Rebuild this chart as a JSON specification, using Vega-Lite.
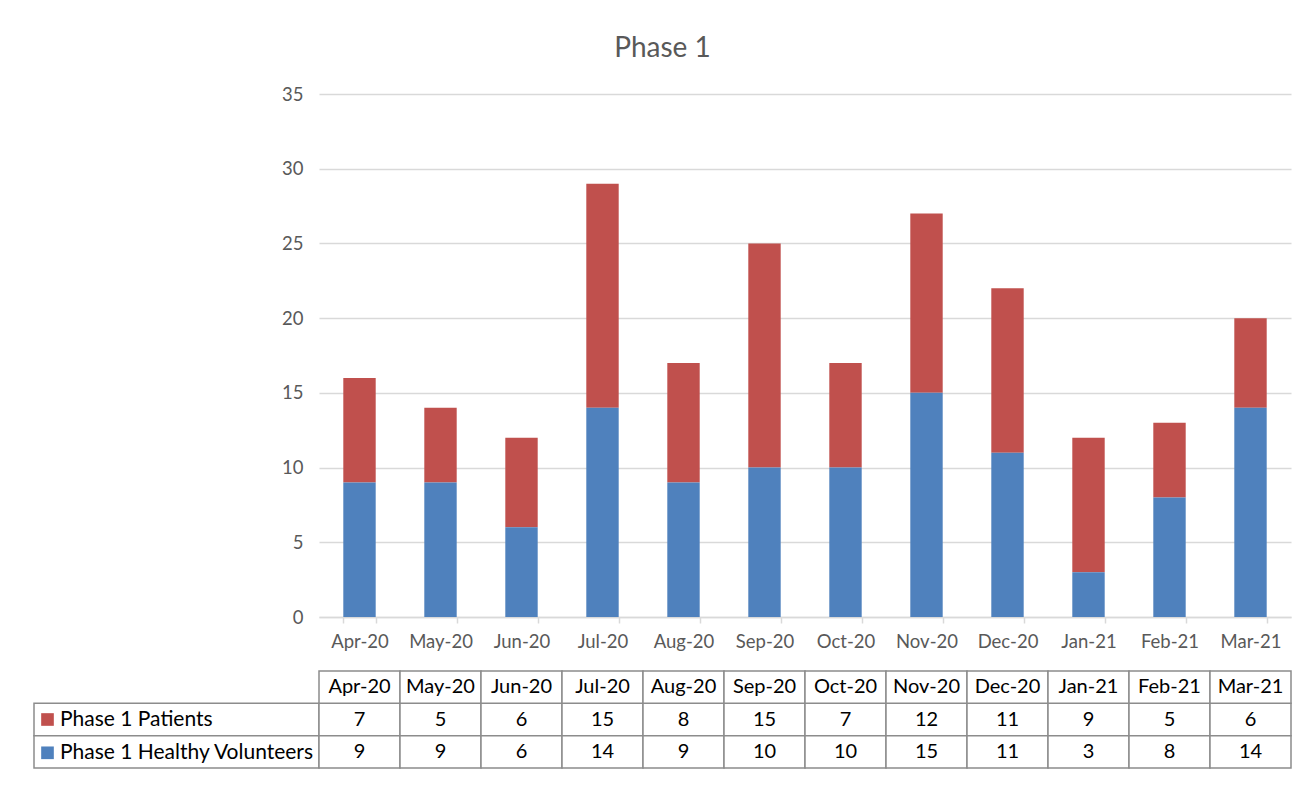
{
  "$schema": "https://vega.github.io/schema/vega-lite/v6.json",
  "background": "white",
  "padding": {"left": 33, "top": 35, "right": 12, "bottom": 10},
  "title": {"text": "Phase 1", "font": "Lato", "fontSize": 28, "fontWeight": "normal", "color": "#595959", "anchor": "middle", "offset": 22},
  "config": {"view": {"stroke": null}, "font": "Lato"},
  "datasets": {
    "phase1": [
      {"month": "Apr-20", "series": "Phase 1 Patients", "value": 7},
      {"month": "Apr-20", "series": "Phase 1 Healthy Volunteers", "value": 9},
      {"month": "May-20", "series": "Phase 1 Patients", "value": 5},
      {"month": "May-20", "series": "Phase 1 Healthy Volunteers", "value": 9},
      {"month": "Jun-20", "series": "Phase 1 Patients", "value": 6},
      {"month": "Jun-20", "series": "Phase 1 Healthy Volunteers", "value": 6},
      {"month": "Jul-20", "series": "Phase 1 Patients", "value": 15},
      {"month": "Jul-20", "series": "Phase 1 Healthy Volunteers", "value": 14},
      {"month": "Aug-20", "series": "Phase 1 Patients", "value": 8},
      {"month": "Aug-20", "series": "Phase 1 Healthy Volunteers", "value": 9},
      {"month": "Sep-20", "series": "Phase 1 Patients", "value": 15},
      {"month": "Sep-20", "series": "Phase 1 Healthy Volunteers", "value": 10},
      {"month": "Oct-20", "series": "Phase 1 Patients", "value": 7},
      {"month": "Oct-20", "series": "Phase 1 Healthy Volunteers", "value": 10},
      {"month": "Nov-20", "series": "Phase 1 Patients", "value": 12},
      {"month": "Nov-20", "series": "Phase 1 Healthy Volunteers", "value": 15},
      {"month": "Dec-20", "series": "Phase 1 Patients", "value": 11},
      {"month": "Dec-20", "series": "Phase 1 Healthy Volunteers", "value": 11},
      {"month": "Jan-21", "series": "Phase 1 Patients", "value": 9},
      {"month": "Jan-21", "series": "Phase 1 Healthy Volunteers", "value": 3},
      {"month": "Feb-21", "series": "Phase 1 Patients", "value": 5},
      {"month": "Feb-21", "series": "Phase 1 Healthy Volunteers", "value": 8},
      {"month": "Mar-21", "series": "Phase 1 Patients", "value": 6},
      {"month": "Mar-21", "series": "Phase 1 Healthy Volunteers", "value": 14}
    ]
  },
  "columns": 2,
  "spacing": {"row": 54, "column": 0},
  "bounds": "flush",
  "resolve": {
    "scale": {"x": "independent", "y": "independent", "color": "independent"},
    "legend": {"color": "independent"}
  },
  "concat": [
    {
      "width": 285,
      "height": 523,
      "data": {"values": [{}]},
      "mark": {"type": "text"},
      "encoding": {"text": {"value": ""}}
    },
    {
      "width": 972,
      "height": 523,
      "data": {"name": "phase1"},
      "mark": {"type": "bar"},
      "encoding": {
        "x": {
          "field": "month", "type": "nominal",
          "sort": ["Apr-20","May-20","Jun-20","Jul-20","Aug-20","Sep-20","Oct-20","Nov-20","Dec-20","Jan-21","Feb-21","Mar-21"],
          "scale": {"paddingInner": 0.6, "paddingOuter": 0.3},
          "axis": {
            "title": null, "labelAngle": 0, "labelFont": "Lato", "labelFontSize": 18.5,
            "labelColor": "#595959", "domainColor": "#d9d9d9", "domainWidth": 1.5,
            "tickColor": "#d9d9d9", "tickWidth": 1.5, "tickBand": "extent", "tickSize": 6,
            "labelPadding": 9, "grid": false
          }
        },
        "y": {
          "field": "value", "type": "quantitative", "stack": "zero",
          "scale": {"domain": [0, 35], "nice": false},
          "axis": {
            "title": null, "values": [0, 5, 10, 15, 20, 25, 30, 35], "domain": false, "ticks": false,
            "labelPadding": 16, "labelFont": "Lato", "labelFontSize": 18.5, "labelColor": "#595959",
            "gridColor": "#d9d9d9", "gridWidth": 1.5
          }
        },
        "color": {
          "field": "series", "type": "nominal",
          "scale": {"domain": ["Phase 1 Patients", "Phase 1 Healthy Volunteers"], "range": ["#c0504d", "#4f81bd"]},
          "legend": null
        },
        "order": {"field": "series", "sort": "ascending"}
      }
    },
    {
      "width": 285,
      "height": 97,
      "data": {"name": "phase1"},
      "layer": [
        {
          "transform": [{"aggregate": [{"op": "count", "as": "n"}], "groupby": ["series"]}],
          "mark": {"type": "rect", "fill": "white", "stroke": "#8c8c8c", "strokeWidth": 1.5},
          "encoding": {
            "y": {
              "field": "series", "type": "nominal",
              "scale": {"domain": ["Month", "Phase 1 Patients", "Phase 1 Healthy Volunteers"], "paddingInner": 0, "paddingOuter": 0},
              "axis": null
            }
          }
        },
        {
          "mark": {"type": "square", "opacity": 0},
          "encoding": {
            "color": {
              "field": "series", "type": "nominal",
              "scale": {"domain": ["Phase 1 Patients", "Phase 1 Healthy Volunteers"], "range": ["#c0504d", "#4f81bd"]},
              "legend": {
                "title": null, "orient": "none", "legendX": 3, "legendY": 38, "direction": "vertical",
                "symbolType": "square", "symbolSize": 160, "symbolOpacity": 1, "symbolStrokeWidth": 0,
                "labelFont": "Lato", "labelFontSize": 21, "labelColor": "#000000", "labelOffset": 2,
                "rowPadding": 11.3, "padding": 0, "labelLimit": 400
              }
            }
          }
        }
      ]
    },
    {
      "width": 972,
      "height": 97,
      "data": {"name": "phase1"},
      "layer": [
        {
          "mark": {"type": "rect", "fill": "white", "stroke": "#8c8c8c", "strokeWidth": 1.5},
          "encoding": {
            "x": {
              "field": "month", "type": "nominal",
              "sort": ["Apr-20","May-20","Jun-20","Jul-20","Aug-20","Sep-20","Oct-20","Nov-20","Dec-20","Jan-21","Feb-21","Mar-21"],
              "scale": {"paddingInner": 0, "paddingOuter": 0},
              "axis": null
            },
            "y": {
              "field": "series", "type": "nominal",
              "scale": {"domain": ["Month", "Phase 1 Patients", "Phase 1 Healthy Volunteers"], "paddingInner": 0, "paddingOuter": 0},
              "axis": null
            }
          }
        },
        {
          "transform": [{"filter": "datum.series === 'Phase 1 Patients'"}],
          "mark": {"type": "rect", "fill": "white", "stroke": "#8c8c8c", "strokeWidth": 1.5},
          "encoding": {
            "x": {"field": "month", "type": "nominal", "sort": ["Apr-20","May-20","Jun-20","Jul-20","Aug-20","Sep-20","Oct-20","Nov-20","Dec-20","Jan-21","Feb-21","Mar-21"]},
            "y": {"datum": "Month", "type": "nominal"}
          }
        },
        {
          "mark": {"type": "text", "font": "Lato", "fontSize": 20, "color": "#000000", "align": "center", "baseline": "middle"},
          "encoding": {
            "x": {"field": "month", "type": "nominal", "sort": ["Apr-20","May-20","Jun-20","Jul-20","Aug-20","Sep-20","Oct-20","Nov-20","Dec-20","Jan-21","Feb-21","Mar-21"]},
            "y": {"field": "series", "type": "nominal"},
            "text": {"field": "value", "type": "quantitative"}
          }
        },
        {
          "transform": [{"filter": "datum.series === 'Phase 1 Patients'"}],
          "mark": {"type": "text", "font": "Lato", "fontSize": 20, "color": "#000000", "align": "center", "baseline": "middle"},
          "encoding": {
            "x": {"field": "month", "type": "nominal", "sort": ["Apr-20","May-20","Jun-20","Jul-20","Aug-20","Sep-20","Oct-20","Nov-20","Dec-20","Jan-21","Feb-21","Mar-21"]},
            "y": {"datum": "Month", "type": "nominal"},
            "text": {"field": "month", "type": "nominal"}
          }
        }
      ]
    }
  ]
}
